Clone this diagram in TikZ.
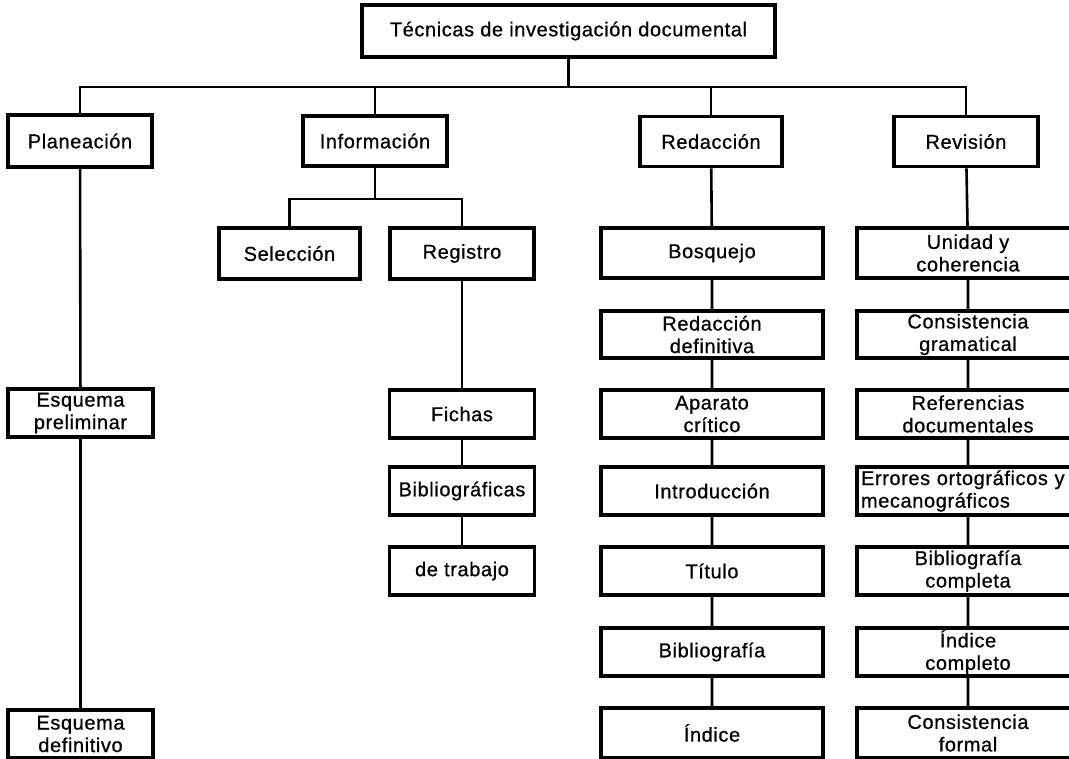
\documentclass[tikz,border=0pt]{standalone}
\usepackage{fontspec}
\setmainfont{Liberation Sans}
\newfontfamily\labelfont{Liberation Sans}[FakeBold=0.7,LetterSpace=3]
\begin{document}
\begin{tikzpicture}[x=1pt,y=-1pt,
  box/.style={draw, line width=3.8pt, fill=white, inner sep=0pt,
    minimum height=48pt, align=center,
    font=\labelfont\fontsize{20}{22.5}\selectfont},
  wide/.style={box, minimum width=222pt},
  narrow/.style={box, minimum width=144pt},
  link/.style={line width=2.6pt}]
\useasboundingbox (0,0) rectangle (1069,759);
\clip (0,0) rectangle (1069,759);

% root
\node[box, minimum width=413pt, minimum height=52pt] (top) at (568.5,31) {Técnicas de investigación documental};

% first level
\node[narrow, minimum height=52pt] (plan) at (80,141) {Planeación};
\node[narrow, minimum height=50pt] (info) at (375,141) {Información};
\node[narrow, minimum width=142pt, minimum height=50pt] (reda) at (711,141.5) {Redacción};
\node[narrow, minimum height=50pt] (revi) at (966,141.5) {Revisión};

% Planeación branch
\node[narrow, minimum width=145pt] (esq1) at (80.5,413) {Esquema\\preliminar};
\node[narrow, minimum width=145pt] (esq2) at (80.5,734) {Esquema\\definitivo};

% Información branch
\node[narrow, minimum width=141pt, minimum height=51pt] (sel) at (289.5,253.5) {Selección};
\node[narrow, minimum height=51pt] (reg) at (462,253.5) {Registro};
\node[narrow, minimum width=145pt] (fich) at (462,414) {Fichas};
\node[narrow, minimum width=145pt] (bibl) at (462,491) {Bibliográficas};
\node[narrow, minimum width=145pt] (trab) at (462,571) {de trabajo};

% Redacción branch
\node[wide, minimum height=50pt] (bosq) at (712,253) {Bosquejo};
\node[wide, minimum height=47pt] (rdef) at (712,334.5) {Redacción\\definitiva};
\node[wide] (apar) at (712,414) {Aparato\\crítico};
\node[wide] (intro) at (712,491) {Introducción};
\node[wide] (titu) at (712,571) {Título};
\node[wide] (bibg) at (712,652) {Bibliografía};
\node[wide, minimum height=50pt] (indi) at (712,733) {Índice};

% Revisión branch
\node[wide, minimum height=50pt] (unid) at (968,253) {Unidad y\\coherencia};
\node[wide, minimum height=47pt] (cgra) at (968,334.5) {Consistencia\\gramatical};
\node[wide] (refe) at (968,414) {Referencias\\documentales};
\node[wide, text width=214pt, align=left] (erro) at (968,491) {Errores ortográficos y\\mecanográficos};
\node[wide] (bcom) at (968,571) {Bibliografía\\completa};
\node[wide] (icom) at (968,652) {Índice\\completo};
\node[wide, minimum height=50pt] (cfor) at (968,733) {Consistencia\\formal};

% main bus
\coordinate (bus) at (568.5,87);
\draw[link] (top.south) -- (bus);
\draw[link] (plan.north) |- (bus) -| (revi.north);
\draw[link] (info.north) -- (info.north |- bus);
\draw[link] (reda.north) -- (reda.north |- bus);

% Información sub-bus
\coordinate (sbus) at (375,199);
\draw[link] (info.south) -- (sbus);
\draw[link] (sel.north) |- (sbus) -| (reg.north);

% vertical chains
\draw[link] (plan) -- (esq1) -- (esq2);
\draw[link] (reg) -- (fich) -- (bibl) -- (trab);
\draw[link] (reda) -- (bosq) -- (rdef) -- (apar) -- (intro) -- (titu) -- (bibg) -- (indi);
\draw[link] (revi) -- (unid) -- (cgra) -- (refe) -- (erro) -- (bcom) -- (icom) -- (cfor);
\end{tikzpicture}
\end{document}
